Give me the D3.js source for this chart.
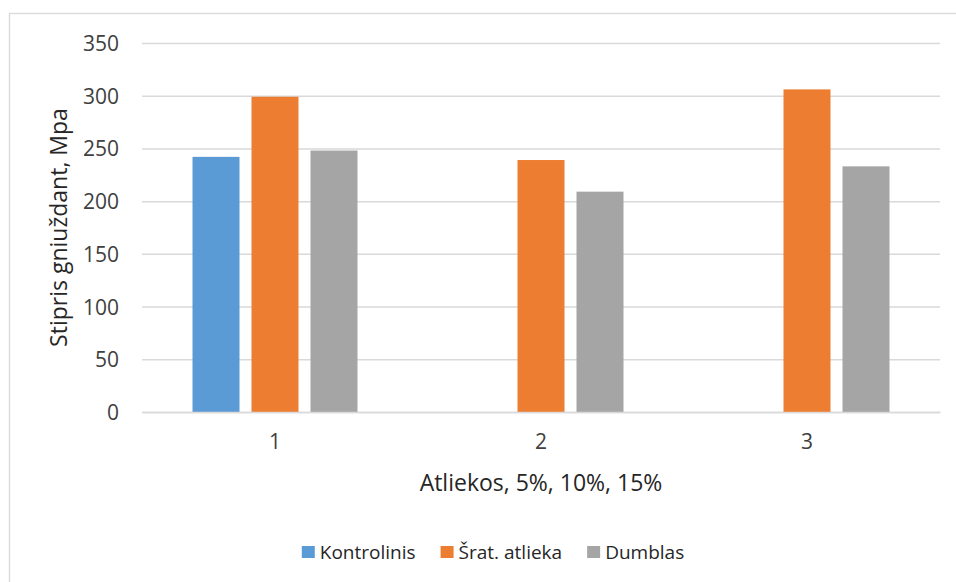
<!DOCTYPE html>
<html>
<head>
<meta charset="utf-8">
<script src="https://cdn.jsdelivr.net/npm/d3@7"></script>
<style>
  html, body { margin: 0; padding: 0; background: #fff; }
  svg { display: block; font-family: "Open Sans", "Noto Sans", sans-serif; }
</style>
</head>
<body>
<svg id="chart" width="956" height="582"></svg>
<script>
// Compressive strength by waste share
const categories = ["1", "2", "3"];
const seriesNames = ["Kontrolinis", "Šrat. atlieka", "Dumblas"];
const seriesColors = ["#5B9BD5", "#ED7D31", "#A5A5A5"];
const kontrolinis = [242, null, null];
const sratAtlieka = [299, 239, 306];
const dumblas = [248, 209, 233];
const yTicks = [0, 50, 100, 150, 200, 250, 300, 350];
const yTitle = "Stipris gniuždant, Mpa";
const xTitle = "Atliekos, 5%, 10%, 15%";

const seriesValues = [kontrolinis, sratAtlieka, dumblas];

const svg = d3.select("#chart");
const plot = { left: 142, right: 940, top: 43, bottom: 412 };

// chart area frame
svg.append("rect")
  .attr("x", 9.5).attr("y", 13.5)
  .attr("width", 1200).attr("height", 1200)
  .attr("fill", "#fff").attr("stroke", "#d9d9d9").attr("stroke-width", 1.3);

const y = d3.scaleLinear().domain([0, 350]).range([plot.bottom, plot.top]);
const x0 = d3.scaleBand().domain(categories).range([plot.left, plot.right]).padding(0);
const x1 = d3.scaleBand().domain(seriesNames).range([0, x0.bandwidth()])
  .paddingInner(0.2034).paddingOuter(0.856);

// horizontal gridlines and value labels
const yAxis = d3.axisLeft(y).tickValues(yTicks).tickSize(-(plot.right - plot.left)).tickPadding(23);
const gy = svg.append("g").attr("transform", `translate(${plot.left},0)`).call(yAxis);
gy.select(".domain").remove();
gy.selectAll(".tick line").attr("stroke", "#d9d9d9").attr("stroke-width", 1.5);
gy.selectAll(".tick text")
  .attr("fill", "#404040").attr("font-size", 21).attr("dy", "0.36em")
  .attr("font-family", "'Open Sans', sans-serif");

// bars
const rows = [];
categories.forEach((c, i) => {
  seriesNames.forEach((s, j) => {
    const v = seriesValues[j][i];
    if (v != null) rows.push({ cat: c, series: s, value: v, color: seriesColors[j] });
  });
});
svg.append("g").selectAll("rect").data(rows).join("rect")
  .attr("x", d => x0(d.cat) + x1(d.series))
  .attr("y", d => y(d.value))
  .attr("width", x1.bandwidth())
  .attr("height", d => y(0) - y(d.value))
  .attr("fill", d => d.color);

// category axis
const xAxis = d3.axisBottom(x0).tickSize(0).tickPadding(22);
const gx = svg.append("g").attr("transform", `translate(0,${plot.bottom})`).call(xAxis);
gx.select(".domain").attr("stroke", "#d9d9d9").attr("stroke-width", 1.5);
gx.selectAll(".tick text")
  .attr("fill", "#404040").attr("font-size", 21)
  .attr("font-family", "'Open Sans', sans-serif");

// axis titles
svg.append("text")
  .attr("x", (plot.left + plot.right) / 2).attr("y", 491)
  .attr("text-anchor", "middle").attr("font-size", 23).attr("fill", "#262626")
  .text(xTitle);
svg.append("text")
  .attr("transform", `translate(67,${(plot.top + plot.bottom) / 2}) rotate(-90)`)
  .attr("text-anchor", "middle").attr("font-size", 23).attr("fill", "#262626")
  .text(yTitle);

// legend
const legend = svg.append("g");
let cursor = 0;
seriesNames.forEach((name, i) => {
  const item = legend.append("g").attr("transform", `translate(${cursor},0)`);
  item.append("rect").attr("x", 0).attr("y", -6).attr("width", 13).attr("height", 12)
    .attr("fill", seriesColors[i]);
  const t = item.append("text").attr("x", 18).attr("y", 0).attr("dy", "0.35em")
    .attr("font-size", 19).attr("fill", "#262626").text(name);
  cursor += 18 + t.node().getComputedTextLength() + 25;
});
const legendWidth = cursor - 25;
legend.attr("transform", `translate(${493 - legendWidth / 2},552)`);
</script>
</body>
</html>
